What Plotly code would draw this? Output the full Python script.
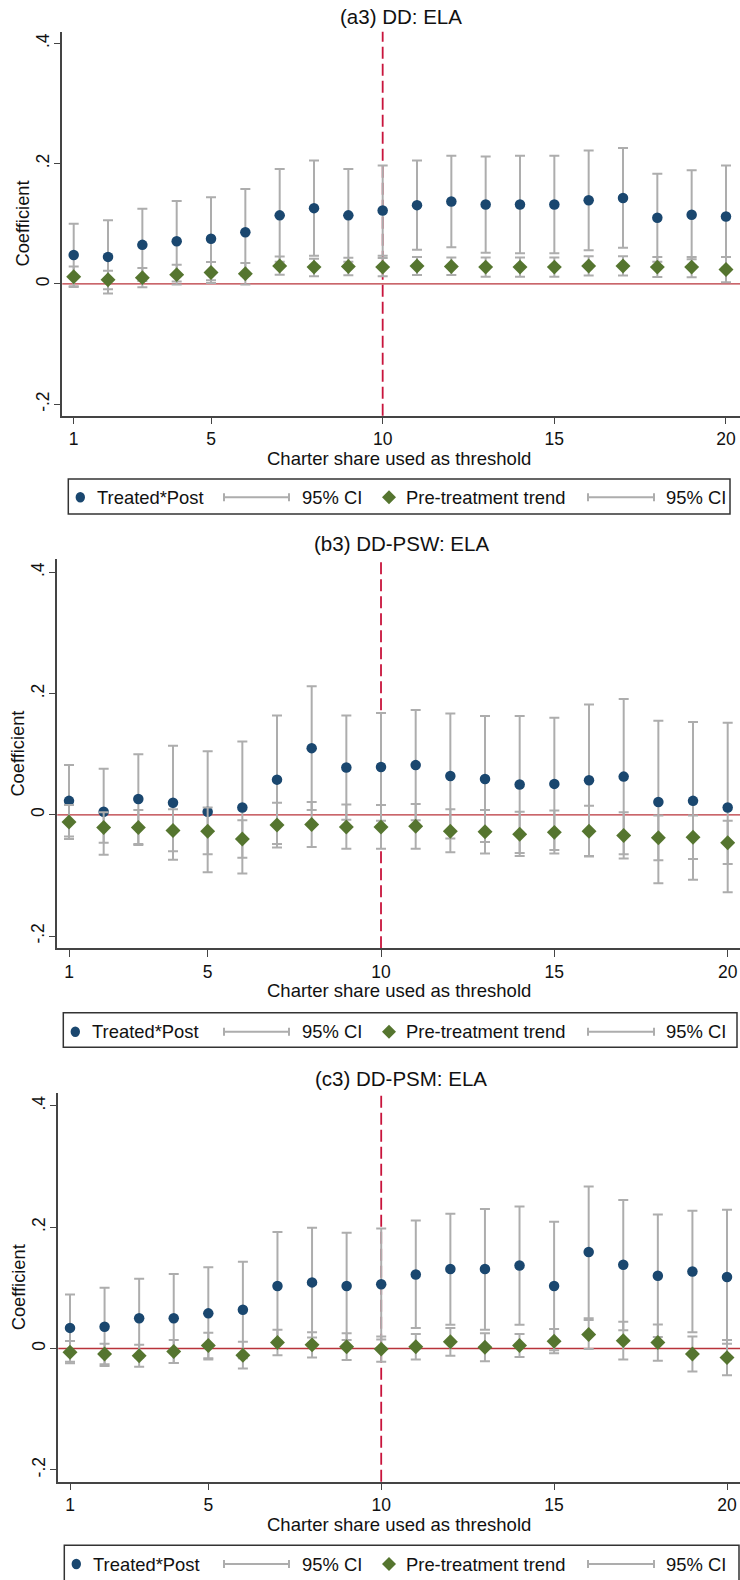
import plotly.graph_objects as go

W, H = 740, 1580
FONT = "Liberation Sans, Arial, sans-serif"
NAVY = "#1a476f"
GREEN = "#55752f"
CI_GRAY = "#adadad"
AXIS = "#444444"
ZERO_RED = "#b8333a"
DASH_RED = "#c8143c"

thresholds = list(range(1, 21))
x_ticks = [1, 5, 10, 15, 20]
y_ticks = [-0.2, 0, 0.2, 0.4]
y_tick_text = ["-.2", "0", ".2", ".4"]

# ---- (a3) DD: ELA ----
a_post = [0.048, 0.045, 0.065, 0.071, 0.075, 0.086, 0.114, 0.126, 0.114, 0.122,
          0.131, 0.137, 0.132, 0.132, 0.132, 0.139, 0.143, 0.110, 0.115, 0.112]
a_post_hi = [0.100, 0.106, 0.125, 0.138, 0.144, 0.158, 0.191, 0.205, 0.191, 0.197,
             0.205, 0.213, 0.212, 0.213, 0.213, 0.222, 0.226, 0.183, 0.189, 0.197]
a_post_lo = [-0.004, -0.016, 0.005, 0.004, 0.006, 0.014, 0.037, 0.047, 0.037, 0.047,
             0.057, 0.061, 0.052, 0.051, 0.051, 0.056, 0.060, 0.037, 0.041, 0.027]
a_trend = [0.012, 0.007, 0.0105, 0.0155, 0.019, 0.017, 0.030, 0.028, 0.029, 0.028,
           0.030, 0.029, 0.028, 0.028, 0.028, 0.030, 0.030, 0.028, 0.028, 0.024]
a_trend_hi = [0.029, 0.022, 0.0265, 0.032, 0.0365, 0.035, 0.0455, 0.042, 0.0435, 0.043,
              0.045, 0.044, 0.044, 0.044, 0.044, 0.046, 0.046, 0.045, 0.045, 0.045]
a_trend_lo = [-0.005, -0.009, -0.0055, -0.001, 0.0015, -0.001, 0.0155, 0.013, 0.0145, 0.013,
              0.015, 0.015, 0.012, 0.012, 0.012, 0.014, 0.014, 0.0115, 0.011, 0.003]

# ---- (b3) DD-PSW: ELA ----
b_post = [0.023, 0.005, 0.026, 0.020, 0.005, 0.012, 0.058, 0.110, 0.078, 0.079,
          0.082, 0.064, 0.059, 0.050, 0.051, 0.057, 0.063, 0.021, 0.023, 0.012]
b_post_hi = [0.082, 0.076, 0.100, 0.114, 0.105, 0.121, 0.164, 0.212, 0.164, 0.168,
             0.173, 0.167, 0.163, 0.163, 0.160, 0.182, 0.191, 0.155, 0.153, 0.152]
b_post_lo = [-0.036, -0.066, -0.048, -0.074, -0.095, -0.097, -0.048, 0.008, -0.008, -0.010,
             -0.009, -0.039, -0.045, -0.063, -0.058, -0.068, -0.065, -0.113, -0.107, -0.128]
b_trend = [-0.012, -0.021, -0.021, -0.026, -0.027, -0.040, -0.017, -0.016, -0.020, -0.020,
           -0.019, -0.027, -0.028, -0.032, -0.029, -0.027, -0.034, -0.038, -0.037, -0.046]
b_trend_hi = [0.016, 0.004, 0.008, 0.009, 0.012, -0.009, 0.020, 0.021, 0.017, 0.016,
              0.018, 0.009, 0.008, 0.005, 0.007, 0.015, 0.004, -0.001, -0.001, -0.010]
b_trend_lo = [-0.040, -0.046, -0.050, -0.060, -0.065, -0.071, -0.054, -0.053, -0.056, -0.056,
              -0.056, -0.062, -0.064, -0.068, -0.064, -0.069, -0.072, -0.075, -0.073, -0.081]

# ---- (c3) DD-PSM: ELA ----
c_post = [0.034, 0.036, 0.050, 0.050, 0.058, 0.064, 0.103, 0.109, 0.103, 0.106,
          0.122, 0.131, 0.131, 0.137, 0.103, 0.159, 0.138, 0.120, 0.127, 0.118]
c_post_hi = [0.089, 0.100, 0.115, 0.123, 0.134, 0.143, 0.192, 0.199, 0.191, 0.198,
             0.211, 0.222, 0.230, 0.234, 0.209, 0.267, 0.245, 0.221, 0.227, 0.229]
c_post_lo = [-0.022, -0.029, -0.015, -0.024, -0.018, -0.016, 0.013, 0.018, 0.014, 0.015,
             0.034, 0.039, 0.031, 0.039, -0.003, 0.050, 0.030, 0.019, 0.027, 0.008]
c_trend = [-0.006, -0.009, -0.012, -0.005, 0.005, -0.011, 0.010, 0.006, 0.003, -0.001,
           0.003, 0.011, 0.002, 0.005, 0.012, 0.023, 0.013, 0.010, -0.009, -0.015]
c_trend_hi = [0.0125, 0.008, 0.006, 0.014, 0.026, 0.011, 0.031, 0.027, 0.025, 0.020,
              0.024, 0.034, 0.025, 0.024, 0.032, 0.047, 0.044, 0.0395, 0.020, 0.014]
c_trend_lo = [-0.0245, -0.026, -0.030, -0.024, -0.016, -0.033, -0.011, -0.015, -0.019, -0.022,
              -0.018, -0.012, -0.021, -0.014, -0.008, -0.001, -0.018, -0.020, -0.038, -0.044]

panels = [
    dict(title="(a3) DD: ELA", post=a_post, post_hi=a_post_hi, post_lo=a_post_lo,
         trend=a_trend, trend_hi=a_trend_hi, trend_lo=a_trend_lo,
         left=62.3, top=31.7, bottom=415.7, xr=[0.668, 20.408], yr=[-0.219, 0.4193],
         title_y=17, xtitle_y=458.5, leg_left=68.3, leg_right=730, leg_top=479, leg_bot=514,
         leg_y=497.3),
    dict(title="(b3) DD-PSW: ELA", post=b_post, post_hi=b_post_hi, post_lo=b_post_lo,
         trend=b_trend, trend_hi=b_trend_hi, trend_lo=b_trend_lo,
         left=57.3, top=559.3, bottom=948.3, xr=[0.6625, 20.355], yr=[-0.2203, 0.4216],
         title_y=543, xtitle_y=990.7, leg_left=63.3, leg_right=737, leg_top=1012.7,
         leg_bot=1047.3, leg_y=1031.7),
    dict(title="(c3) DD-PSM: ELA", post=c_post, post_hi=c_post_hi, post_lo=c_post_lo,
         trend=c_trend, trend_hi=c_trend_hi, trend_lo=c_trend_lo,
         left=58.3, top=1093.3, bottom=1481.7, xr=[0.6617, 20.376], yr=[-0.2196, 0.4208],
         title_y=1078, xtitle_y=1524, leg_left=64.3, leg_right=739, leg_top=1545.3,
         leg_bot=1582, leg_y=1564),
]


def px(x):
    return x / W


def py(y):
    return 1 - y / H


fig = go.Figure()
shapes = []
annotations = []

for i, p in enumerate(panels, start=1):
    xa = "x" if i == 1 else f"x{i}"
    ya = "y" if i == 1 else f"y{i}"
    # point estimates with 95% CI caps
    fig.add_trace(go.Scatter(
        x=thresholds, y=p["post"], xaxis=xa, yaxis=ya, mode="markers",
        marker=dict(symbol="circle", size=10.5, color=NAVY),
        error_y=dict(type="data", symmetric=False,
                     array=[h - v for h, v in zip(p["post_hi"], p["post"])],
                     arrayminus=[v - l for v, l in zip(p["post"], p["post_lo"])],
                     color=CI_GRAY, thickness=2, width=5),
        showlegend=False, hoverinfo="skip"))
    fig.add_trace(go.Scatter(
        x=thresholds, y=p["trend"], xaxis=xa, yaxis=ya, mode="markers",
        marker=dict(symbol="diamond", size=11.5, color=GREEN),
        error_y=dict(type="data", symmetric=False,
                     array=[h - v for h, v in zip(p["trend_hi"], p["trend"])],
                     arrayminus=[v - l for v, l in zip(p["trend"], p["trend_lo"])],
                     color=CI_GRAY, thickness=2, width=5),
        showlegend=False, hoverinfo="skip"))

    axis_common = dict(showline=True, linecolor=AXIS, linewidth=1.5, ticks="outside",
                       ticklen=7, tickwidth=1.3, tickcolor=AXIS, showgrid=False,
                       zeroline=False, tickfont=dict(family=FONT, size=17.5, color="#111"))
    fig.layout[f"xaxis{'' if i == 1 else i}"] = dict(
        axis_common, domain=[px(p["left"]), 1], anchor=ya, range=p["xr"],
        tickvals=x_ticks)
    fig.layout[f"yaxis{'' if i == 1 else i}"] = dict(
        axis_common, domain=[py(p["bottom"]), py(p["top"])], anchor=xa, range=p["yr"],
        tickvals=y_ticks, ticktext=y_tick_text, tickangle=-90, ticklabelstandoff=-2)

    # reference lines: zero effect and the 10% threshold
    shapes.append(dict(type="line", xref=f"{xa} domain", yref=ya, x0=0, x1=1, y0=0, y1=0,
                       line=dict(color=ZERO_RED, width=1.3), layer="below"))
    shapes.append(dict(type="line", xref=xa, yref=f"{ya} domain", x0=10, x1=10, y0=0, y1=1,
                       line=dict(color=DASH_RED, width=1.8, dash="12px,5px"), layer="below"))

    # titles
    annotations.append(dict(text=p["title"], x=px(401), y=py(p["title_y"]), xref="paper",
                            yref="paper", showarrow=False, xanchor="center", yanchor="middle",
                            font=dict(family=FONT, size=20.5, color="#111")))
    annotations.append(dict(text="Charter share used as threshold", x=px(399),
                            y=py(p["xtitle_y"]), xref="paper", yref="paper", showarrow=False,
                            xanchor="center", yanchor="middle",
                            font=dict(family=FONT, size=18.5, color="#111")))
    annotations.append(dict(text="Coefficient", x=px(p["left"] - 39.5),
                            y=py((p["top"] + p["bottom"]) / 2), xref="paper", yref="paper",
                            showarrow=False, textangle=-90, xanchor="center",
                            yanchor="middle", font=dict(family=FONT, size=18.3, color="#111")))

    # legend box
    ly = p["leg_y"]
    shapes.append(dict(type="rect", xref="paper", yref="paper",
                       x0=px(p["leg_left"]), x1=px(p["leg_right"]),
                       y0=py(p["leg_bot"]), y1=py(p["leg_top"]),
                       line=dict(color="#333", width=1.5), fillcolor="white"))
    cx = p["leg_left"] + 12
    shapes.append(dict(type="circle", xref="paper", yref="paper",
                       x0=px(cx - 4.7), x1=px(cx + 4.7), y0=py(ly + 5.2), y1=py(ly - 5.2),
                       line=dict(width=0), fillcolor=NAVY))
    dx = 389
    shapes.append(dict(type="path", xref="paper", yref="paper",
                       path=(f"M {px(dx - 7)},{py(ly)} L {px(dx)},{py(ly - 7)} "
                             f"L {px(dx + 7)},{py(ly)} L {px(dx)},{py(ly + 7)} Z"),
                       line=dict(width=0), fillcolor=GREEN))
    for x0, x1 in [(224, 289), (588, 654)]:
        shapes.append(dict(type="line", xref="paper", yref="paper", x0=px(x0), x1=px(x1),
                           y0=py(ly), y1=py(ly), line=dict(color=CI_GRAY, width=2)))
        for xc in (x0, x1):
            shapes.append(dict(type="line", xref="paper", yref="paper", x0=px(xc), x1=px(xc),
                               y0=py(ly - 4), y1=py(ly + 4),
                               line=dict(color=CI_GRAY, width=2)))
    for txt, lx in [("Treated*Post", p["leg_left"] + 26.5), ("95% CI", 300),
                    ("Pre-treatment trend", 403.5), ("95% CI", 663.5)]:
        annotations.append(dict(text=txt, x=px(lx), y=py(ly), xref="paper", yref="paper",
                                showarrow=False, xanchor="left", yanchor="middle",
                                font=dict(family=FONT, size=18.4, color="#111")))

fig.update_layout(
    width=W, height=H, margin=dict(l=0, r=0, t=0, b=0),
    paper_bgcolor="white", plot_bgcolor="white",
    shapes=shapes, annotations=annotations, showlegend=False,
    font=dict(family=FONT, color="#111"),
)

fig.write_html("out.html")
